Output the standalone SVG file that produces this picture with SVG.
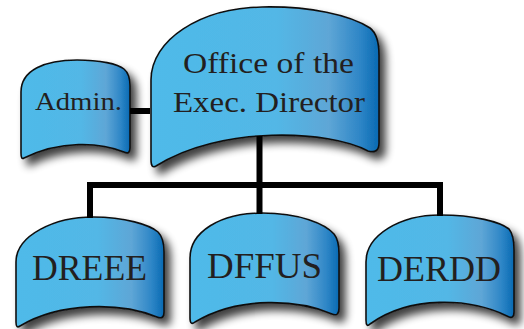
<svg xmlns="http://www.w3.org/2000/svg" width="524" height="329" viewBox="0 0 524 329">
<defs>
<linearGradient id="g" x1="0" y1="0" x2="1" y2="0">
<stop offset="0" stop-color="#4FBAE9"/>
<stop offset="0.55" stop-color="#52B7E6"/>
<stop offset="0.78" stop-color="#5EA6D6"/>
<stop offset="0.92" stop-color="#2D85C6"/>
<stop offset="1" stop-color="#0869B2"/>
</linearGradient>
<filter id="sh" x="-20%" y="-20%" width="150%" height="160%">
<feGaussianBlur in="SourceAlpha" stdDeviation="4"/>
<feOffset dx="6" dy="7" result="b"/>
<feComponentTransfer><feFuncA type="linear" slope="0.75"/></feComponentTransfer>
<feMerge><feMergeNode/><feMergeNode in="SourceGraphic"/></feMerge>
</filter>
</defs>
<style>
.box{fill:url(#g);stroke:#111;stroke-width:1.6;filter:url(#sh)}
.t{font-family:"Liberation Serif","Times New Roman",serif;fill:#231F20;text-anchor:middle}
.c{stroke:#000;stroke-width:6;fill:none}
</style>
<rect width="524" height="329" fill="#fff"/>
<g id="admin">
<path class="box" d="M21,92 C21,70 45,60 77,60 C100,60 118,64 124,69 Q130,74 130,86 L130,148 Q130,155 124,152 C100,142 60,140 24,158 Q21,160 21,153 Z"/>
<text class="t" x="78.5" y="110" font-size="26" textLength="87" lengthAdjust="spacingAndGlyphs">Admin.</text>
</g>
<g id="office">
<path class="box" d="M151,80 C151,40 200,8 262,7 C310,6 350,15 370,28 Q379,35 379,55 L379,143 Q379,154 368,151 C330,130 220,125 156,166 Q151,169 151,160 Z"/>
<text class="t" x="268.5" y="73" font-size="29" textLength="171" lengthAdjust="spacingAndGlyphs">Office of the</text>
<text class="t" x="269" y="112" font-size="29" textLength="192" lengthAdjust="spacingAndGlyphs">Exec. Director</text>
</g>
<g id="dreee">
<path class="box" d="M16,262 C16,235 55,217 93,217 C125,217 150,225 158,232 Q164,238 164,252 L164,312 Q164,320 157,317 C120,302 60,302 20,326 Q16,329 16,322 Z"/>
<text class="t" x="89.5" y="280" font-size="35" textLength="115" lengthAdjust="spacingAndGlyphs">DREEE</text>
</g>
<g id="dffus">
<path class="box" d="M190,258 C190,232 220,213 262,213 C300,213 325,224 334,234 Q339,240 339,254 L339,308 Q339,317 332,314 C300,300 240,295 195,322 Q190,326 190,318 Z"/>
<text class="t" x="264.5" y="278" font-size="35" textLength="115" lengthAdjust="spacingAndGlyphs">DFFUS</text>
</g>
<g id="derdd">
<path class="box" d="M366,262 C366,235 400,215 440,215 C475,215 500,222 509,229 Q514,235 514,250 L514,312 Q514,320 507,316 C470,298 410,295 370,324 Q366,328 366,320 Z"/>
<text class="t" x="439" y="281" font-size="35" textLength="124" lengthAdjust="spacingAndGlyphs">DERDD</text>
</g>
<g id="connectors">
<line class="c" x1="130" y1="111" x2="150" y2="111"/>
<polyline class="c" points="259.5,136 259.5,185"/>
<polyline class="c" points="90,218 90,185 440,185 440,216"/>
<line class="c" x1="259.5" y1="185" x2="259.5" y2="214"/>
</g>
</svg>
